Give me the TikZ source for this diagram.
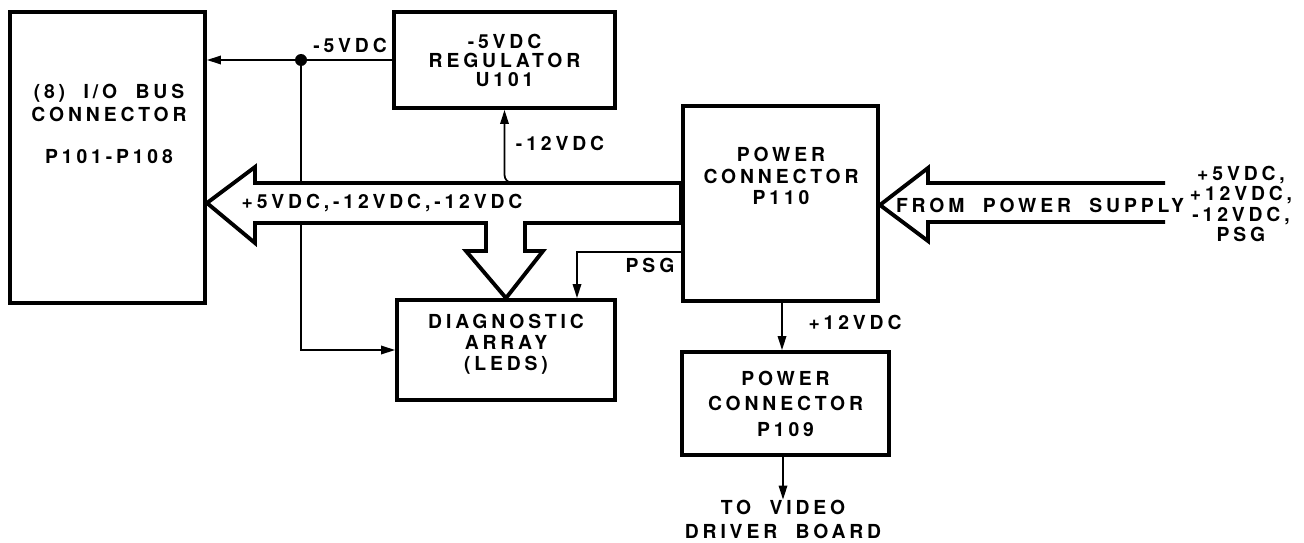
\documentclass[tikz,border=0pt]{standalone}
\usepackage{fontspec}
\usepackage{tikz}
\usetikzlibrary{arrows.meta}
\newfontfamily\lblfont[LetterSpace=20,WordSpace=2]{TeX Gyre Heros}

\begin{document}
\begin{tikzpicture}[x=0.2mm,y=-0.2mm,
  lbl/.style={font={\lblfont\bfseries\fontsize{11}{12}\selectfont},align=center,inner sep=0pt},
  blk/.style n args={2}{draw,line width=2.2pt,minimum width=#1mm,minimum height=#2mm,lbl},
  sig/.style={line width=1pt,-{Triangle[length=2.8mm,width=1.7mm]}},
  bigarrow/.style={line width=2.2pt,fill=white,line join=miter}]
\useasboundingbox (0,0) rectangle (1304,542);
% boxes
\node[blk={39}{58.2}] (bus) at (107.5,157.5) {};
\node[blk={44.2}{19.2}] (reg) at (504.5,60) {-5VDC\\[-1.2pt]REGULATOR\\[-1.2pt]U101};
\node[blk={39}{39}] (p110) at (780.5,203.5) {};
\node[blk={43.6}{20}] (diag) at (506,350) {};
\node[blk={41.4}{20.6}] (p109) at (785.5,403.5) {POWER\\[2.5pt]CONNECTOR\\[2.5pt]P109};
\node[lbl] (bustxt) at (109,124) {(8) I/O BUS\\[1pt]CONNECTOR\\[12pt]P101-P108};
\node[lbl] (p110txt) at (781,176) {POWER\\CONNECTOR\\P110};
\node[lbl] (diagtxt) at (506,344) {DIAGNOSTIC\\ARRAY\\(LEDS)};
\node[lbl] (video) at (783,519.5) {TO VIDEO\\[2pt]DRIVER BOARD};
% thin lines
\coordinate (jn) at (reg.west -| 301,0);
\draw[sig] (reg.west) -- (reg.west -| bus.east);
\fill (jn) circle (1.2mm);
\draw[sig] (jn) |- (diag.west);
\draw[sig] (p110.west |- 0,252) -| (diag.north -| 577,0);
\draw[sig] (p110.south -| 782,0) -- (p109.north -| 782,0);
\draw[sig] (p109.south -| video.north) -- (video.north);
% hollow arrows
\draw[bigarrow] (p110.west |- 0,183) -- (255,183) -- (255,167) -- (bus.east |- 0,203)
   -- (255,243) -- (255,223) -- (486,223) -- (486,251) -- (466,251) -- (diag.north)
   -- (543,251) -- (525,251) -- (525,223) -- (p110.west |- 0,223) -- cycle;
\draw[bigarrow] (1165,183) -- (928,183) -- (928,168) -- (p110.east |- 0,205)
   -- (928,241) -- (928,222) -- (1165,222);
\draw[sig,rounded corners=1.6mm] (530,183) -| (reg.south);
\node[lbl] (bustag) at (382,203) {+5VDC,-12VDC,-12VDC};
\node[lbl] (fromps) at (1040,205) {FROM POWER SUPPLY};
\node[lbl] (psrail) at (1241,204) {+5VDC,\\[-0.3pt]+12VDC,\\[-0.3pt]-12VDC,\\[-0.3pt]PSG};
\foreach \n/\x/\y/\t in {l5/350/45/-5VDC,l12/560/143/-12VDC,lp12/855/322/+12VDC,lpsg/650/265/PSG}
   \node[lbl] (\n) at (\x,\y) {\t};
\end{tikzpicture}
\end{document}
